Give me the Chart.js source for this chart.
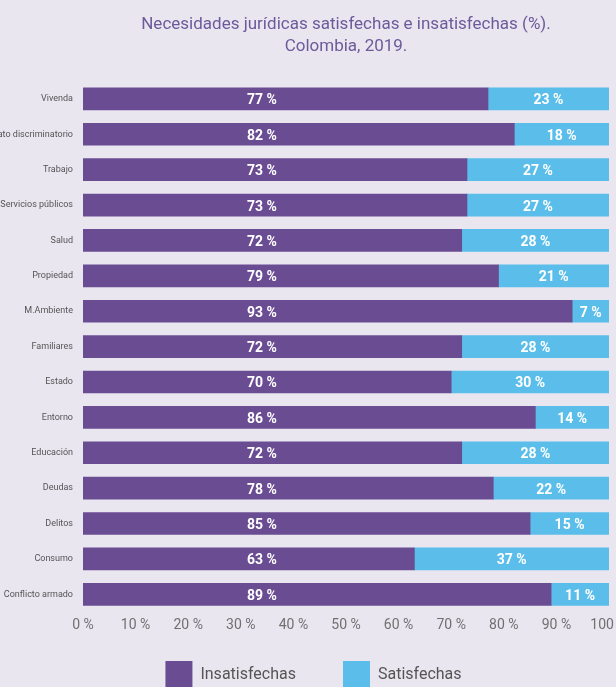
<!DOCTYPE html>
<html>
<head>
<meta charset="utf-8">
<script src="https://cdn.jsdelivr.net/npm/chart.js@4"></script>
<style>
  body { margin: 0; overflow: hidden; background: #e9e6f0; }
  #wrap { position: relative; width: 616px; height: 698px; }
</style>
</head>
<body>
<div id="wrap"><canvas id="chart"></canvas></div>
<script>
const categories = ['Vivenda', 'Trato discriminatorio', 'Trabajo', 'Servicios públicos', 'Salud', 'Propiedad',
    'M.Ambiente', 'Familiares', 'Estado', 'Entorno', 'Educación', 'Deudas', 'Delitos', 'Consumo', 'Conflicto armado'];
const insatisfechas = [77, 82, 73, 73, 72, 79, 93, 72, 70, 86, 72, 78, 85, 63, 89];
const satisfechas = [23, 18, 27, 27, 28, 21, 7, 28, 30, 14, 28, 22, 15, 37, 11];
const titleLines = ['Necesidades jurídicas satisfechas e insatisfechas (%).', 'Colombia, 2019.'];

// the purple labels all sit at the same spot in the original, not in the middle of the bar
const insatLabelAt = 34;

const valueLabels = {
    id: 'valueLabels',
    afterDatasetsDraw(chart) {
        const ctx = chart.ctx;
        const x = chart.scales.x;
        ctx.save();
        ctx.fillStyle = '#ffffff';
        ctx.font = 'bold 14px Roboto';
        ctx.textAlign = 'center';
        ctx.textBaseline = 'middle';
        chart.data.datasets.forEach((ds, i) => {
            chart.getDatasetMeta(i).data.forEach((bar, j) => {
                const cx = i === 0 ? x.getPixelForValue(insatLabelAt) : bar.getCenterPoint().x;
                ctx.fillText(ds.data[j] + ' %', cx, bar.y + 2);
            });
        });
        ctx.restore();
    }
};

// let tick labels spill out of their box (the original crops them at the edges)
const noLabelClip = () => undefined;

new Chart(document.getElementById('chart'), {
    type: 'bar',
    data: {
        labels: categories,
        datasets: [{
            label: 'Insatisfechas',
            data: insatisfechas,
            backgroundColor: '#6a4c93',
            barThickness: 22
        }, {
            label: 'Satisfechas',
            data: satisfechas,
            backgroundColor: '#5bbeea',
            barThickness: 22
        }]
    },
    options: {
        indexAxis: 'y',
        responsive: true,
        maintainAspectRatio: false,
        animation: false,
        layout: { padding: { left: 18, right: 7, top: 0, bottom: 0 } },
        scales: {
            x: {
                stacked: true,
                min: 0,
                max: 100,
                grid: { display: false, drawTicks: false },
                border: { display: false },
                ticks: {
                    stepSize: 10,
                    padding: 5,
                    color: '#707070',
                    font: { family: 'Roboto', size: 14 },
                    callback: v => v + ' %'
                },
                afterFit(s) {
                    s.height = 2;
                    s.paddingLeft = 0;
                    s.paddingRight = 0;
                    s._computeLabelArea = noLabelClip;
                }
            },
            y: {
                stacked: true,
                grid: { display: false, drawTicks: false },
                border: { display: false },
                ticks: {
                    padding: 10,
                    color: '#555555',
                    font: { family: 'Roboto', size: 9 }
                },
                afterFit(s) {
                    s.width = 65;
                    s._computeLabelArea = noLabelClip;
                }
            }
        },
        plugins: {
            title: {
                display: true,
                text: titleLines,
                fullSize: false,
                color: '#6c5a9b',
                font: { family: 'Roboto', size: 17, weight: 'normal', lineHeight: 1.3 },
                padding: { top: 14, bottom: 23 }
            },
            legend: {
                position: 'bottom',
                labels: {
                    boxWidth: 27,
                    boxHeight: 27,
                    padding: 47,
                    color: '#555555',
                    font: { family: 'Roboto', size: 16 }
                }
            },
            tooltip: { enabled: false }
        }
    },
    plugins: [valueLabels]
});
</script>
</body>
</html>
